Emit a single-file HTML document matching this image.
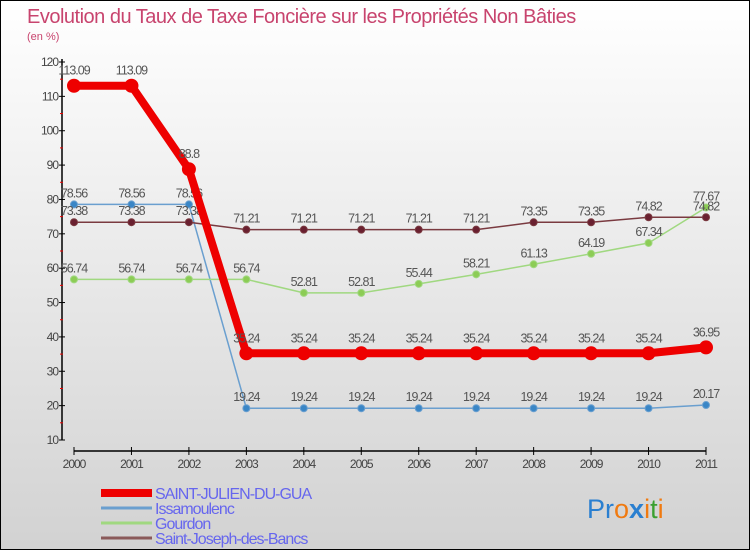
<!DOCTYPE html>
<html><head><meta charset="utf-8"><style>
body{margin:0}
#wrap{width:750px;height:550px;box-sizing:border-box;border:1px solid #000;background:linear-gradient(#fff,#d2d2d2);position:relative;font-family:"Liberation Sans",sans-serif;overflow:hidden}
svg text{font-family:"Liberation Sans",sans-serif}
</style></head><body>
<div id="wrap">
<svg id="svg" width="750" height="550">
<text x="26" y="22" font-size="20" fill="#c8446e" letter-spacing="-0.5">Evolution du Taux de Taxe Foncière sur les Propriétés Non Bâties</text>
<text x="26" y="39" font-size="11" fill="#c8446e">(en %)</text>
<g id="g"></g>
<text x="586" y="517" font-size="27"><tspan fill="#2a7fd0">Pr</tspan><tspan fill="#f07a10">o</tspan><tspan fill="#2a7fd0" font-weight="bold">x</tspan><tspan fill="#f07a10">i</tspan><tspan fill="#3aa030">t</tspan><tspan fill="#f07a10">i</tspan></text>
</svg></div>
<script>
const years=[2000,2001,2002,2003,2004,2005,2006,2007,2008,2009,2010,2011];
const yTicks=[10,20,30,40,50,60,70,80,90,100,110,120];
const seriesNames=["SAINT-JULIEN-DU-GUA","Issamoulenc","Gourdon","Saint-Joseph-des-Bancs"];
const sJulien=[113.09,113.09,88.8,35.24,35.24,35.24,35.24,35.24,35.24,35.24,35.24,36.95];
const sIssa=[78.56,78.56,78.56,19.24,19.24,19.24,19.24,19.24,19.24,19.24,19.24,20.17];
const sGourdon=[56.74,56.74,56.74,56.74,52.81,52.81,55.44,58.21,61.13,64.19,67.34,77.67];
const sJoseph=[73.38,73.38,73.38,71.21,71.21,71.21,71.21,71.21,73.35,73.35,74.82,74.82];
const NS="http://www.w3.org/2000/svg";
const g=document.getElementById('g');
function X(i){return 73+i*(632/(years.length-1));}
function Y(v){return 61+(120-v)*(378/110);}
function mk(t,a,p){const e=document.createElementNS(NS,t);for(const k in a)e.setAttribute(k,a[k]);(p||g).appendChild(e);return e;}
let ax=mk('line',{x1:61,y1:58,x2:61,y2:439,stroke:'#000','stroke-width':1.5});


let xa=mk('line',{x1:73,y1:450,x2:705,y2:450,stroke:'#000','stroke-width':1.5});


yTicks.forEach(v=>{
 mk('line',{x1:58,y1:Y(v),x2:64,y2:Y(v),stroke:'#000'});
 if(v<120)mk('line',{x1:59,y1:Y(v+5),x2:62,y2:Y(v+5),stroke:'#e00'});
 const t=mk('text',{x:57,y:Y(v)+4,'font-size':12,'text-anchor':'end',fill:'#444','letter-spacing':'-1'});t.textContent=v;
 
 
});
years.forEach((y,i)=>{
 mk('line',{x1:X(i),y1:446,x2:X(i),y2:454,stroke:'#000'});
 const t=mk('text',{x:X(i),y:467,'font-size':12,'text-anchor':'middle',fill:'#444','letter-spacing':'-1'});t.textContent=y;
 
 
});
function series(data,color,w,r,fill,name,dy){
 const pts=data.map((v,i)=>X(i)+','+Y(v)).join(' ');
 const l=mk('polyline',{points:pts,fill:'none',stroke:color,'stroke-width':w,'stroke-linejoin':'round'});
 
 
 data.forEach((v,i)=>{
  const c=mk('circle',{cx:X(i),cy:Y(v),r:r,fill:fill,stroke:color,'stroke-width':1});
  
  
  const t=mk('text',{x:X(i),y:Y(v)+dy,'font-size':12.5,'text-anchor':'middle',fill:'#555','letter-spacing':'-1'});t.textContent=v;
  
  
 });
}
series(sIssa,'#6a9fcf',1.5,3.5,'#3a86c6','issamoulenc',-7);
series(sGourdon,'#a0d880',1.5,3.5,'#8ccc55','gourdon',-7);
series(sJoseph,'#7a3a40',1.5,3.5,'#6a2030','saint-joseph',-7);
series(sJulien,'#ee0000',8,6.5,'#ee0000','saint-julien',-11);
const cols=['#ee0000','#6a9fcf','#a0d880','#8a5a5a'],ws=[8,3,3,3];
seriesNames.forEach((n,i)=>{
 const y=492+i*15;
 const l=mk('line',{x1:100,y1:y,x2:151,y2:y,stroke:cols[i],'stroke-width':ws[i]});
 
 
 const t=mk('text',{x:154,y:y+6,'font-size':16,fill:'#6666ee','letter-spacing':'-1'});t.textContent=n;
 
 
});
</script></body></html>
